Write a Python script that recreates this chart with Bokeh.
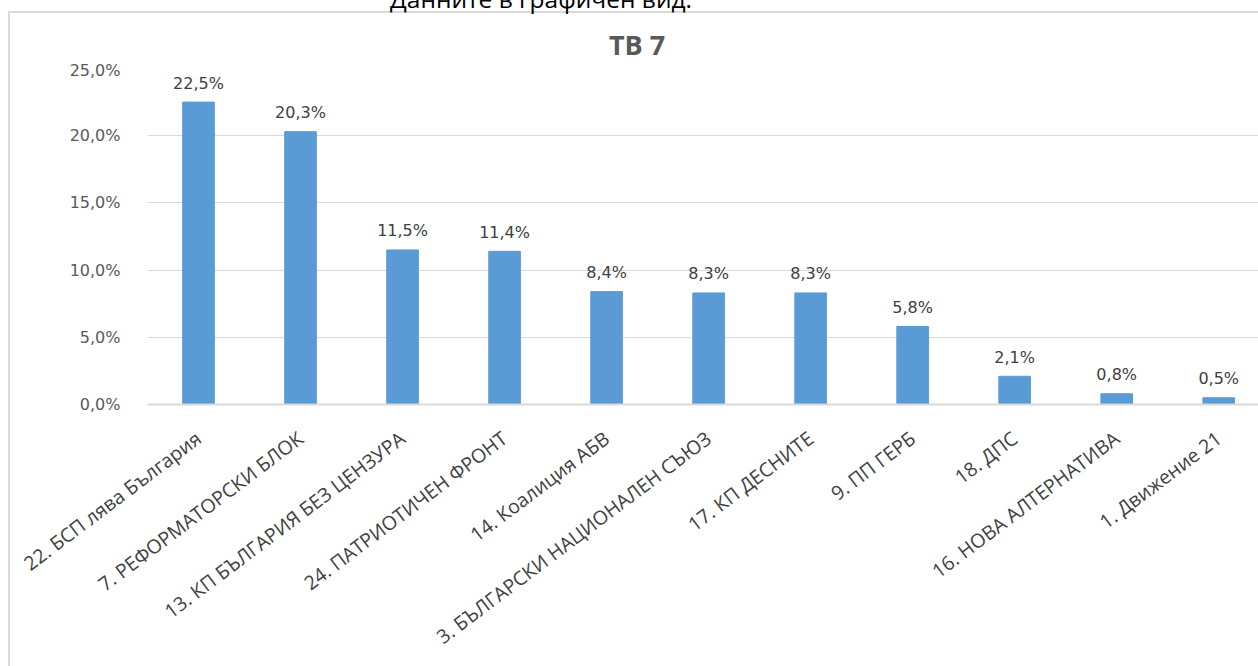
import math
from bokeh.plotting import figure
from bokeh.layouts import column
from bokeh.models import Range1d, FixedTicker, ColumnDataSource, Div
from bokeh.core.properties import value
from bokeh.embed import file_html
from bokeh.resources import INLINE

categories = [
    "22. БСП лява България",
    "7. РЕФОРМАТОРСКИ БЛОК",
    "13. КП БЪЛГАРИЯ БЕЗ ЦЕНЗУРА",
    "24. ПАТРИОТИЧЕН ФРОНТ",
    "14. Коалиция АБВ",
    "3. БЪЛГАРСКИ НАЦИОНАЛЕН СЪЮЗ",
    "17. КП ДЕСНИТЕ",
    "9. ПП ГЕРБ",
    "18. ДПС",
    "16. НОВА АЛТЕРНАТИВА",
    "1. Движение 21",
]
values = [22.5, 20.3, 11.5, 11.4, 8.4, 8.3, 8.3, 5.8, 2.1, 0.8, 0.5]
y_ticks = [0, 5, 10, 15, 20, 25]
y_tick_labels = ["0,0%", "5,0%", "10,0%", "15,0%", "20,0%", "25,0%"]
title_text = "ТВ 7"
heading_text = "Данните в графичен вид:"

DIV_H = 60
GRAY = "#d9d9d9"

idx = list(range(len(categories)))
labels = [("%.1f" % v).replace(".", ",") + "%" for v in values]
src = ColumnDataSource(dict(x=idx, top=values, label=labels))

# header: heading line (partly above the window, as in the reference) and chart title,
# with the top/left edge of the chart frame
header_html = (
    "<div style=\"position:relative;width:1258px;height:%dpx;"
    "background:linear-gradient(%s,%s) 8px 11px / 2px 100%% no-repeat,"
    "linear-gradient(%s,%s) 8px 11px / 100%% 2px no-repeat, white;\">"
    "<div style=\"position:absolute;left:0;top:-13px;width:1082px;text-align:center;"
    "font-family:'Open Sans';font-size:24.5px;line-height:24px;color:#000;white-space:nowrap\">%s</div>"
    "<div style=\"position:absolute;left:537px;top:31px;width:200px;text-align:center;"
    "font-family:'Open Sans';font-weight:bold;font-size:27px;line-height:27px;color:#595959;"
    "white-space:nowrap\">%s</div>"
    "</div>"
) % (DIV_H, GRAY, GRAY, GRAY, GRAY, heading_text, title_text)
header = Div(text=header_html, width=1258, height=DIV_H, margin=0,
             styles={"overflow": "visible"})

p = figure(width=1258, height=666 - DIV_H, output_backend="svg", toolbar_location=None,
           x_range=Range1d(-0.5, 10.39), y_range=Range1d(0, 25),
           min_border_left=147, min_border_right=0, min_border_top=68 - DIV_H,
           min_border_bottom=262, margin=0)
p.styles = {"background": "linear-gradient(%s,%s) 8px 0px / 2px 100%% no-repeat, white" % (GRAY, GRAY)}
p.outline_line_color = None
p.background_fill_color = "white"
p.border_fill_color = None

p.vbar(x="x", top="top", width=0.31, source=src, color="#5B9BD5")
p.text(x="x", y="top", text="label", source=src, text_align="center", text_baseline="middle",
       y_offset=-19, text_font=value("DejaVu Sans"), text_font_size="16px", text_color="#404040")

# y axis
p.yaxis.ticker = FixedTicker(ticks=y_ticks)
p.yaxis.major_label_overrides = {t: l for t, l in zip(y_ticks, y_tick_labels)}
p.yaxis.axis_line_color = None
p.yaxis.major_tick_line_color = None
p.yaxis.minor_tick_line_color = None
p.yaxis.major_label_text_font = "DejaVu Sans"
p.yaxis.major_label_text_font_size = "16px"
p.yaxis.major_label_text_color = "#595959"
p.yaxis.major_label_standoff = 21

# x axis
p.xaxis.ticker = FixedTicker(ticks=idx)
p.xaxis.major_label_overrides = {i: c for i, c in zip(idx, categories)}
p.xaxis.major_label_orientation = math.radians(37)
p.xaxis.axis_line_color = GRAY
p.xaxis.axis_line_width = 2
p.xaxis.major_tick_line_color = None
p.xaxis.minor_tick_line_color = None
p.xaxis.major_label_text_font = "Open Sans"
p.xaxis.major_label_text_font_size = "19.5px"
p.xaxis.major_label_text_color = "#404040"
p.xaxis.major_label_standoff = 25

p.xgrid.grid_line_color = None
p.ygrid.grid_line_color = GRAY
p.ygrid.grid_line_width = 1

layout = column(header, p, spacing=0, margin=0)
open("out.html", "w").write(file_html(layout, INLINE))
